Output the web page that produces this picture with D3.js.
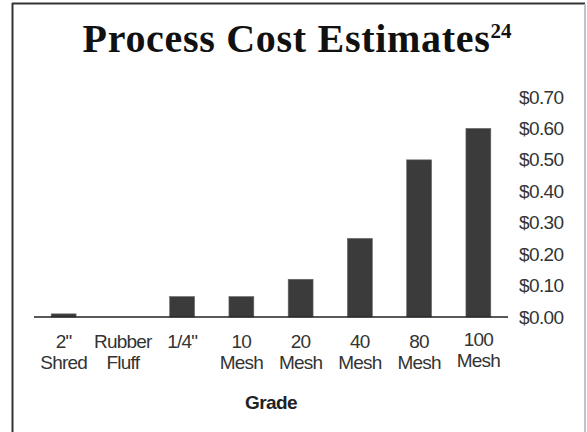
<!DOCTYPE html>
<html>
<head>
<meta charset="utf-8">
<script src="https://cdn.jsdelivr.net/npm/d3@7"></script>
<style>
  html, body { margin: 0; padding: 0; background: #fff; }
  svg { display: block; }
</style>
</head>
<body>
<div id="chart"></div>
<script>
const grades = ["2\" Shred", "Rubber Fluff", "1/4\"", "10 Mesh", "20 Mesh", "40 Mesh", "80 Mesh", "100 Mesh"];
const gradeLines = [["2\"", "Shred"], ["Rubber", "Fluff"], ["1/4\""], ["10", "Mesh"], ["20", "Mesh"], ["40", "Mesh"], ["80", "Mesh"], ["100", "Mesh"]];
const costs = [0.01, 0, 0.065, 0.065, 0.12, 0.25, 0.50, 0.60];
const yTicks = [0, 0.1, 0.2, 0.3, 0.4, 0.5, 0.6, 0.7];

const width = 587, height = 432;
const plot = { left: 34, right: 508, top: 97, bottom: 317 };
const sans = "'Liberation Sans', Arial, sans-serif";

const svg = d3.select("#chart").append("svg")
  .attr("width", width).attr("height", height);

// frame
svg.append("line").attr("x1", 12).attr("x2", 585).attr("y1", 3.5).attr("y2", 3.5)
  .attr("stroke", "#333").attr("stroke-width", 2);
svg.append("line").attr("x1", 12.5).attr("x2", 12.5).attr("y1", 3).attr("y2", height)
  .attr("stroke", "#333").attr("stroke-width", 2);
svg.append("line").attr("x1", 585).attr("x2", 585).attr("y1", 4).attr("y2", height)
  .attr("stroke", "#c4c4c4").attr("stroke-width", 2);

// title
const title = svg.append("text")
  .attr("x", 297).attr("y", 52)
  .attr("text-anchor", "middle")
  .style("font-family", "'Liberation Serif', 'DejaVu Serif', serif")
  .style("font-weight", "bold")
  .style("font-size", "40px")
  .style("letter-spacing", "0.7px")
  .attr("fill", "#111");
title.append("tspan").text("Process Cost Estimates");
title.append("tspan").attr("dy", -14)
  .style("font-size", "21px").style("letter-spacing", "0px").text("24");

const x = d3.scaleBand()
  .domain(grades)
  .range([plot.left, plot.right])
  .paddingInner(0.58)
  .paddingOuter(0.29);

const y = d3.scaleLinear()
  .domain([0, 0.7])
  .range([plot.bottom, plot.top]);

// bars
svg.append("g")
  .selectAll("rect")
  .data(costs)
  .join("rect")
  .attr("x", (d, i) => x(grades[i]))
  .attr("y", d => y(d))
  .attr("width", x.bandwidth())
  .attr("height", d => y(0) - y(d))
  .attr("fill", "#3b3b3b")
  .attr("stroke", "#666")
  .attr("stroke-width", 0.6);

// baseline
svg.append("line")
  .attr("x1", plot.left).attr("x2", plot.right)
  .attr("y1", y(0)).attr("y2", y(0))
  .attr("stroke", "#222").attr("stroke-width", 1.5);

// y axis on the right
const yAxis = svg.append("g")
  .attr("transform", `translate(${plot.right},0)`)
  .call(d3.axisRight(y).tickValues(yTicks).tickSize(0).tickPadding(11)
    .tickFormat(d => "$" + d3.format(".2f")(d)));
yAxis.select(".domain").remove();
yAxis.selectAll("text")
  .style("font-family", sans)
  .style("font-size", "19px")
  .style("letter-spacing", "-0.6px")
  .attr("fill", "#333");

// category labels
const labels = svg.append("g")
  .selectAll("text")
  .data(gradeLines)
  .join("text")
  .attr("x", (d, i) => x(grades[i]) + x.bandwidth() / 2)
  .attr("y", (d, i) => i === 7 ? 346 : 348)
  .attr("text-anchor", "middle")
  .style("font-family", sans)
  .style("font-size", "19px")
  .style("letter-spacing", "-0.8px")
  .attr("fill", "#333");
labels.each(function(d) {
  const t = d3.select(this);
  d.forEach((line, j) => {
    t.append("tspan")
      .attr("x", t.attr("x"))
      .attr("dy", j === 0 ? 0 : 21)
      .text(line);
  });
});

// x axis title
svg.append("text")
  .attr("x", (plot.left + plot.right) / 2)
  .attr("y", 409)
  .attr("text-anchor", "middle")
  .style("font-family", sans)
  .style("font-weight", "bold")
  .style("font-size", "19px")
  .style("letter-spacing", "-0.6px")
  .attr("fill", "#222")
  .text("Grade");
</script>
</body>
</html>
